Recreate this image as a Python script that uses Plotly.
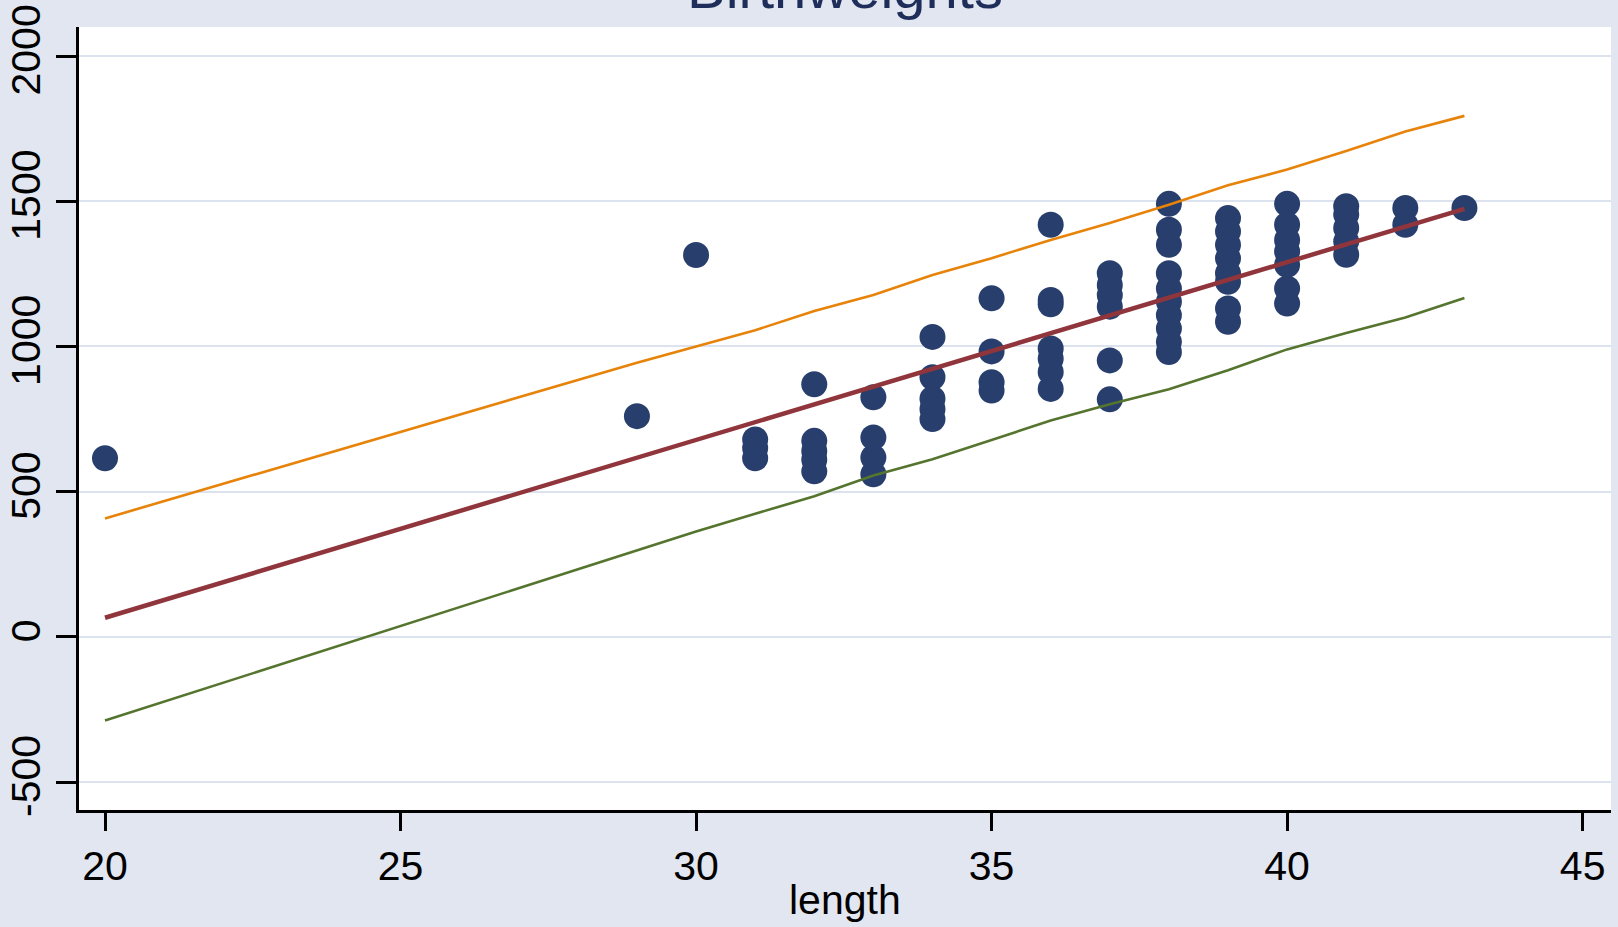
import plotly.graph_objects as go

# ---- data ----
length = [20,
          29,
          30,
          31, 31, 31,
          32, 32, 32, 32, 32,
          33, 33, 33, 33,
          34, 34, 34, 34, 34,
          35, 35, 35, 35,
          36, 36, 36, 36, 36, 36, 36,
          37, 37, 37, 37, 37, 37,
          38, 38, 38, 38, 38, 38, 38, 38, 38, 38,
          39, 39, 39, 39, 39, 39, 39, 39,
          40, 40, 40, 40, 40, 40, 40,
          41, 41, 41, 41, 41,
          42, 42,
          43]
weight = [615,
          760,
          1315,
          680, 650, 615,
          870, 675, 640, 610, 570,
          825, 687, 618, 560,
          1033, 894, 820, 785, 750,
          1166, 983, 877, 848,
          1419, 1160, 1145, 993, 958, 912, 854,
          1252, 1212, 1177, 1137, 952, 818,
          1491, 1402, 1350, 1252, 1200, 1154, 1108, 1062, 1016, 981,
          1442, 1396, 1350, 1304, 1252, 1223, 1131, 1085,
          1491, 1419, 1367, 1327, 1281, 1200, 1148,
          1483, 1454, 1408, 1362, 1316,
          1477, 1419,
          1477]

fit_x = [20, 29, 30, 31, 32, 33, 34, 35, 36, 37, 38, 39, 40, 41, 42, 43]
fit_y = [66, 617, 678, 739, 801, 862, 923, 984, 1045, 1106, 1168, 1229, 1290, 1351, 1413, 1474]
upper_y = [408, 944, 1000, 1056, 1122, 1177, 1246, 1304, 1367, 1425, 1488, 1555, 1609, 1673, 1740, 1794]
lower_y = [-288, 298, 363, 424, 484, 556, 612, 678, 745, 801, 853, 918, 990, 1046, 1100, 1167]

x_ticks = [20, 25, 30, 35, 40, 45]
y_ticks = [-500, 0, 500, 1000, 1500, 2000]

title_text = "Birthweights"
x_title = "length"

# ---- styles ----
BG = "#E1E6F0"
GRID = "#DCE3EE"
NAVY = "#283F6E"
MAROON = "#90353B"
ORANGE = "#E8830A"
GREEN = "#55752F"
FONT = "Liberation Sans, Arial, sans-serif"

fig = go.Figure()
fig.add_trace(go.Scatter(x=length, y=weight, mode="markers",
                         marker=dict(color=NAVY, size=26, line=dict(width=0)),
                         showlegend=False))
fig.add_trace(go.Scatter(x=fit_x, y=upper_y, mode="lines",
                         line=dict(color=ORANGE, width=2.6), showlegend=False))
fig.add_trace(go.Scatter(x=fit_x, y=lower_y, mode="lines",
                         line=dict(color=GREEN, width=2.6), showlegend=False))
fig.add_trace(go.Scatter(x=fit_x, y=fit_y, mode="lines",
                         line=dict(color=MAROON, width=4.5), showlegend=False))

fig.update_layout(
    width=1618, height=927,
    paper_bgcolor=BG, plot_bgcolor="white",
    margin=dict(l=79, r=7, t=27, b=117, pad=0, autoexpand=False),
    font=dict(family=FONT, size=41, color="black"),
    showlegend=False,
    annotations=[
        dict(text=title_text, xref="paper", yref="paper", x=0.5, y=1,
             xanchor="center", yanchor="middle", yshift=40, showarrow=False,
             font=dict(family=FONT, size=58, color="#1E2D5A")),
        dict(text=x_title, xref="paper", yref="paper", x=0.5, y=0,
             xanchor="center", yanchor="middle", yshift=-90, showarrow=False,
             font=dict(family=FONT, size=41, color="black")),
    ],
)
fig.update_xaxes(range=[19.56, 45.48], tickvals=x_ticks, ticktext=[str(v) for v in x_ticks],
                 showgrid=False, zeroline=False, showline=True, linecolor="black",
                 linewidth=2.5, ticks="outside", ticklen=18, tickwidth=2.5,
                 tickcolor="black", tickfont=dict(size=41), automargin=False)
fig.update_yaxes(range=[-596, 2100], tickvals=y_ticks, ticktext=[str(v) for v in y_ticks],
                 showgrid=True, gridcolor=GRID, gridwidth=2, zeroline=False,
                 showline=True, linecolor="black", linewidth=2.5, ticks="outside",
                 ticklen=20, tickwidth=2.5, tickcolor="black", tickangle=-90,
                 tickfont=dict(size=41), automargin=False)

fig.write_html("out.html", config={"displayModeBar": False},
               post_script="document.body.style.margin='0';document.body.style.overflow='hidden';")
